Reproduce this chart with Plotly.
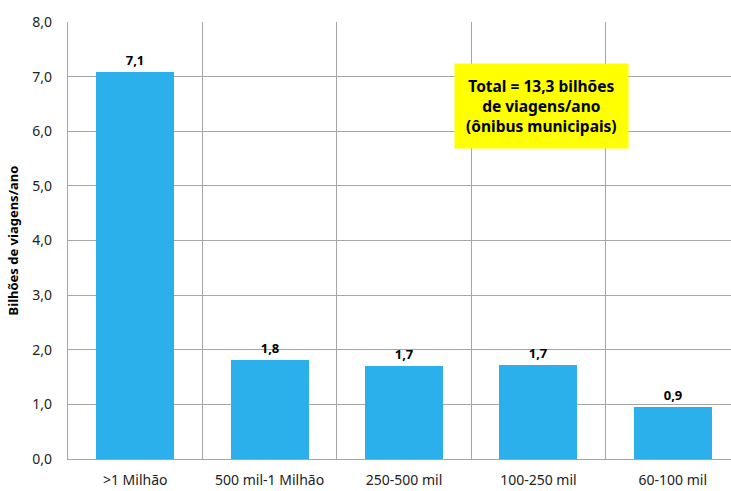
import plotly.graph_objects as go

categories = [">1 Milhão", "500 mil-1 Milhão", "250-500 mil", "100-250 mil", "60-100 mil"]
values = [7.09, 1.82, 1.70, 1.72, 0.95]
labels = ["7,1", "1,8", "1,7", "1,7", "0,9"]
y_ticks = [0, 1, 2, 3, 4, 5, 6, 7, 8]
y_tick_labels = ["0,0", "1,0", "2,0", "3,0", "4,0", "5,0", "6,0", "7,0", "8,0"]
note = "Total = 13,3 bilhões<br>de viagens/ano<br>(ônibus municipais)"

font = "Noto Sans"
grid = "#a6a6a6"

x = list(range(len(categories)))
fig = go.Figure(go.Bar(
    x=x, y=values, width=0.58,
    marker=dict(color="#2cb0ec", line=dict(width=0)),
    text=labels, textposition="outside", cliponaxis=False,
    textfont=dict(family=font, size=13, color="#000000", weight="bold"),
))

fig.update_layout(
    width=731, height=491,
    margin=dict(l=68, r=0, t=22, b=32),
    paper_bgcolor="white", plot_bgcolor="white",
    showlegend=False, bargap=0,
    font=dict(family=font, size=14, color="#222222"),
    xaxis=dict(
        range=[-0.5, 4.433], tickvals=x, ticktext=categories,
        showgrid=False, zeroline=False, ticks="", ticklen=0,
        ticklabelstandoff=8,
        tickfont=dict(size=14, color="#222222"),
        minor=dict(tick0=0.5, dtick=1, showgrid=True, gridcolor=grid, gridwidth=1.3, ticks=""),
        showline=True, linecolor=grid, linewidth=1.3,
    ),
    yaxis=dict(
        range=[0, 8], tickvals=y_ticks, ticktext=y_tick_labels,
        showgrid=True, gridcolor=grid, gridwidth=1.3, zeroline=False,
        showline=True, linecolor=grid, linewidth=1.3,
        ticks="", ticklabelstandoff=12,
        tickfont=dict(size=14, color="#222222"),
        title=dict(text="Bilhões de viagens/ano", standoff=10,
                   font=dict(family=font, size=13, color="#000000", weight="bold")),
    ),
    annotations=[dict(
        x=3.02, y=6.46, xref="x", yref="y", text=note, showarrow=False,
        bgcolor="#ffff00", borderpad=11, align="center",
        font=dict(family=font, size=15.5, color="#000000", weight="bold"),
    )],
)

fig.write_html("out.html")
